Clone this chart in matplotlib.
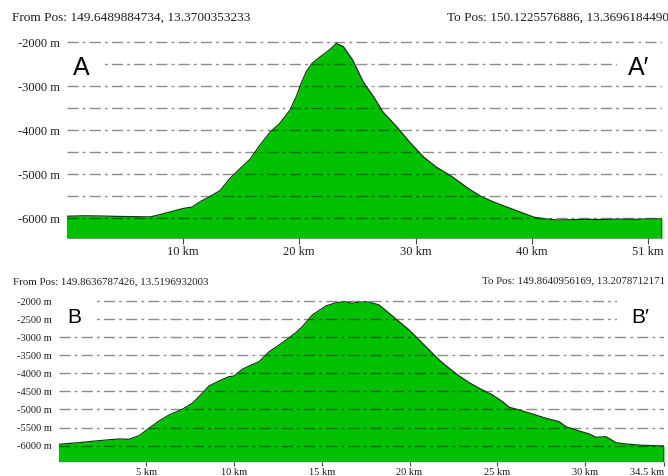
import matplotlib
matplotlib.use("Agg")
import matplotlib.pyplot as plt
from matplotlib.patches import Rectangle

plt.rcParams['lines.scale_dashes'] = False

# profile A - A'
top_km = [0.0, 1.5, 3.0, 4.5, 6.0, 7.2, 8.0, 9.0, 10.0, 10.8, 11.5, 12.3, 13.2,
          14.0, 14.9, 15.8, 16.6, 17.5, 18.3, 19.2, 19.8, 20.1, 20.6, 21.1, 21.8,
          22.6, 23.2, 23.8, 24.6, 25.5, 26.4, 27.2, 28.4, 29.5, 30.7, 31.8, 33.0,
          33.8, 34.4, 35.6, 36.7, 38.7, 40.2, 41.0, 42.2, 43.0, 44.5, 46.0, 47.3,
          49.0, 50.0, 51.2]
top_elev = [-5955, -5945, -5950, -5960, -5965, -5970, -5920, -5850, -5780, -5745,
            -5620, -5510, -5370, -5105, -4875, -4650, -4345, -4040, -3850, -3545,
            -3200, -2975, -2670, -2480, -2330, -2175, -2025, -2100, -2405, -2900,
            -3240, -3585, -3925, -4270, -4610, -4840, -5030, -5180, -5300, -5500,
            -5630, -5830, -5977, -6010, -6040, -6035, -6025, -6030, -6020, -6025,
            -6015, -6015]

# profile B - B'
bot_km = [0.0, 1.16, 2.30, 3.44, 4.01, 4.58, 5.15, 5.72, 6.29, 7.05, 7.62, 8.19,
          8.57, 9.14, 9.71, 10.0, 10.47, 10.86, 11.43, 12.0, 12.57, 13.14, 13.52,
          13.89, 14.46, 15.23, 15.8, 16.37, 16.74, 17.13, 17.7, 18.27, 18.84, 19.41,
          19.98, 20.55, 21.12, 21.69, 22.26, 22.83, 23.4, 23.97, 24.73, 25.3, 25.68,
          26.25, 27.0, 27.77, 28.53, 28.91, 29.67, 30.24, 30.62, 31.19, 31.76, 32.33,
          33.28, 34.5]
bot_elev = [-5962, -5917, -5862, -5815, -5824, -5725, -5520, -5318, -5152, -4995,
            -4828, -4552, -4350, -4212, -4093, -4074, -3888, -3797, -3678, -3401,
            -3217, -3015, -2876, -2710, -2387, -2138, -2047, -2019, -2064, -2028,
            -2028, -2111, -2341, -2572, -2802, -3078, -3355, -3631, -3862, -4074,
            -4258, -4414, -4599, -4784, -4939, -5013, -5124, -5243, -5337, -5475,
            -5594, -5677, -5768, -5751, -5917, -5954, -5990, -6009]

top_xticks = [10, 20, 30, 40, 50]
top_xlabels = ["10 km", "20 km", "30 km", "40 km", "51 km"]
top_yticks = [-2000, -3000, -4000, -5000, -6000]
top_ylabels = ["-2000 m", "-3000 m", "-4000 m", "-5000 m", "-6000 m"]

bot_xticks = [5, 10, 15, 20, 25, 30, 34.5]
bot_xlabels = ["5 km", "10 km", "15 km", "20 km", "25 km", "30 km", "34.5 km"]
bot_yticks = [-2000, -2500, -3000, -3500, -4000, -4500, -5000, -5500, -6000]
bot_ylabels = ["-2000 m", "-2500 m", "-3000 m", "-3500 m", "-4000 m", "-4500 m",
               "-5000 m", "-5500 m", "-6000 m"]

W, H = 668, 476
serif = ['Liberation Serif', 'DejaVu Serif']
sans = ['Liberation Sans', 'DejaVu Sans']
txt_col = '#1e1e1e'


def draw_profile(ax, km, elev, xmax, ylim, grid_levels, boxes, fs, ticklen):
    ymin = ylim[0]
    ax.set_xlim(0, xmax)
    ax.set_ylim(*ylim)
    # green body
    ax.fill_between(km, elev, ymin, color='#00c000', lw=0, zorder=1)
    # dash-dot grid
    for g in grid_levels:
        ax.axhline(g, color='black', alpha=0.45, lw=1.0,
                   ls=(0, (8, 3, 2, 3)), zorder=2)
    # white blanks behind the end labels
    for (x0, x1, y0, y1) in boxes:
        ax.add_patch(Rectangle((x0, y0), x1 - x0, y1 - y0, facecolor='white',
                               edgecolor='none', zorder=3))
    # outline of the section
    ax.plot([0] + km + [xmax], [ymin] + elev + [ymin], color='#2a2a2a',
            lw=0.9, zorder=4, solid_joinstyle='round')
    for s in ax.spines.values():
        s.set_visible(False)
    ax.tick_params(axis='y', length=0, pad=5, labelsize=fs, labelcolor=txt_col)
    ax.tick_params(axis='x', length=ticklen, width=0.8, color='#444444',
                   pad=1.5, labelsize=fs, labelcolor=txt_col)
    for lab in ax.get_xticklabels() + ax.get_yticklabels():
        lab.set_family(serif)


fig = plt.figure(figsize=(W / 100, H / 100), dpi=100)

# top section
ax1 = fig.add_axes([66.7 / W, 1 - 238.3 / H, (662 - 66.7) / W, (238.3 - 41.4) / H])
ax1.set_xticks(top_xticks, top_xlabels)
ax1.set_yticks(top_yticks, top_ylabels)
draw_profile(ax1, top_km, top_elev, 51.2, (-6457, -1980),
             [-2000, -2500, -3000, -3500, -4000, -4500, -5000, -5500, -6000],
             [(0, 3.3, -2750, -2250), (47.3, 51.2, -2750, -2250)], 9, 4)

# bottom section
ax2 = fig.add_axes([58.6 / W, 1 - 461.7 / H, (664 - 58.6) / W, (461.7 - 299.2) / H])
ax2.set_xticks(bot_xticks, bot_xlabels)
ax2.set_yticks(bot_yticks, bot_ylabels)
draw_profile(ax2, bot_km, bot_elev, 34.5, (-6444, -1950), bot_yticks,
             [(0, 2.07, -2750, -1950), (31.83, 34.5, -2750, -1950)], 7.5, 3)
# last distance label sits flush against the right edge
ax2.get_xticklabels()[-1].set_horizontalalignment('right')

# position headers
fig.text(12.5 / W, 1 - 17.3 / H, "From Pos: 149.6489884734, 13.3700353233",
         fontsize=9.6, family=serif, color=txt_col, va='center', ha='left')
fig.text(447 / W, 1 - 17.3 / H, "To Pos: 150.1225576886, 13.3696184490",
         fontsize=9.5, family=serif, color=txt_col, va='center', ha='left')
fig.text(13 / W, 1 - 282 / H, "From Pos: 149.8636787426, 13.5196932003",
         fontsize=7.8, family=serif, color=txt_col, va='center', ha='left')
fig.text(482 / W, 1 - 281 / H, "To Pos: 149.8640956169, 13.2078712171",
         fontsize=7.8, family=serif, color=txt_col, va='center', ha='left')

# section end labels
fig.text(73 / W, 1 - 75 / H, "A", fontsize=18, family=sans, va='baseline')
fig.text(628 / W, 1 - 75 / H, "A\u2032", fontsize=18, family=sans, va='baseline')
fig.text(67 / W, 1 - 323 / H, "B", fontsize=15, family=sans, va='baseline')
fig.text(631 / W, 1 - 323 / H, "B\u2032", fontsize=15, family=sans, va='baseline')

fig.savefig("out.png", dpi=100)
